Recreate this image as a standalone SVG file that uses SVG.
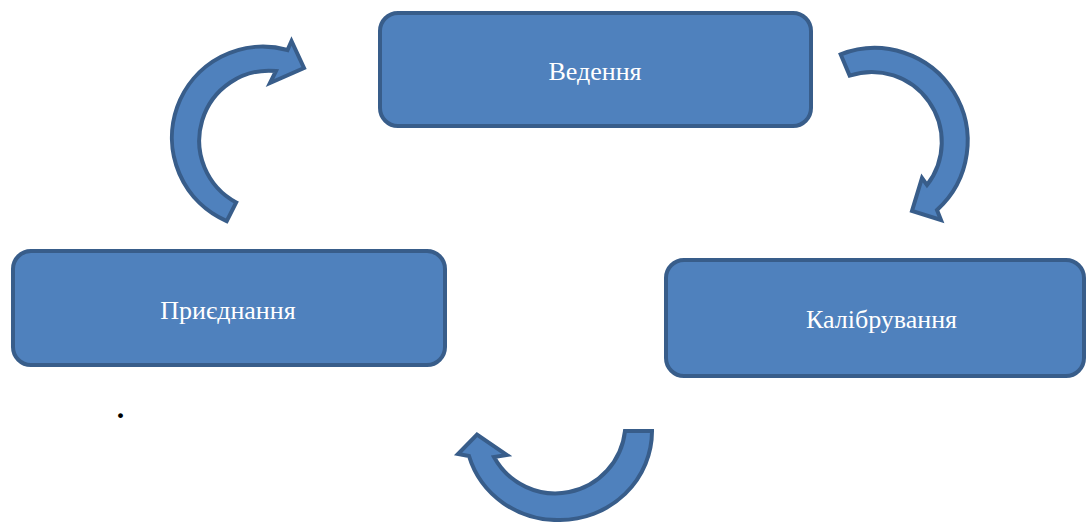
<svg xmlns="http://www.w3.org/2000/svg" width="1086" height="522" viewBox="0 0 1086 522">
  <style>
    .box { fill: #4F81BD; stroke: #385D8A; stroke-width: 4; }
    .arrow { fill: #4F81BD; stroke: #385D8A; stroke-width: 4; stroke-linejoin: miter; }
    .label { font-family: "Liberation Serif", "Times New Roman", serif; font-size: 26px; fill: #FFFFFF; text-anchor: middle; }
    .dot { font-family: "Liberation Serif", "Times New Roman", serif; font-size: 30px; font-weight: bold; fill: #000000; text-anchor: middle; }
  </style>
  <rect width="1086" height="522" fill="#FFFFFF"/>

  <g id="connectors">
    <path id="arrow-left" class="arrow" d="M226.7,221.1 A91,91 0 0 1 287.5,50 L291.5,41 L304,68 L270,83 L276,71 A70,70 0 0 0 236.2,202.4 Z"/>
    <path id="arrow-right" class="arrow" d="M840.7,54.4 A93,93 0 0 1 937,210 L941,220 L912,211 L922,178 L927,185 A70,70 0 0 0 849.6,75.6 Z"/>
    <path id="arrow-bottom" class="arrow" d="M652,431 A92,89 0 0 1 560,520 A92,89 0 0 1 469,456 L458,454 L477,434.5 L507,455 L494,457 A70,70 0 0 0 625,431 Z"/>
  </g>

  <g id="node-vedennia">
    <rect class="box" x="380" y="13" width="431" height="113" rx="18" ry="18"/>
    <text class="label" x="595" y="80">Ведення</text>
  </g>

  <g id="node-pryiednannia">
    <rect class="box" x="13" y="251" width="432" height="114" rx="18" ry="18"/>
    <text class="label" x="228" y="319">Приєднання</text>
  </g>

  <g id="node-kalibruvannia">
    <rect class="box" x="666" y="260" width="418" height="116" rx="18" ry="18"/>
    <text class="label" x="881.5" y="328">Калібрування</text>
  </g>

  <text class="dot" x="120.5" y="418">.</text>
</svg>
